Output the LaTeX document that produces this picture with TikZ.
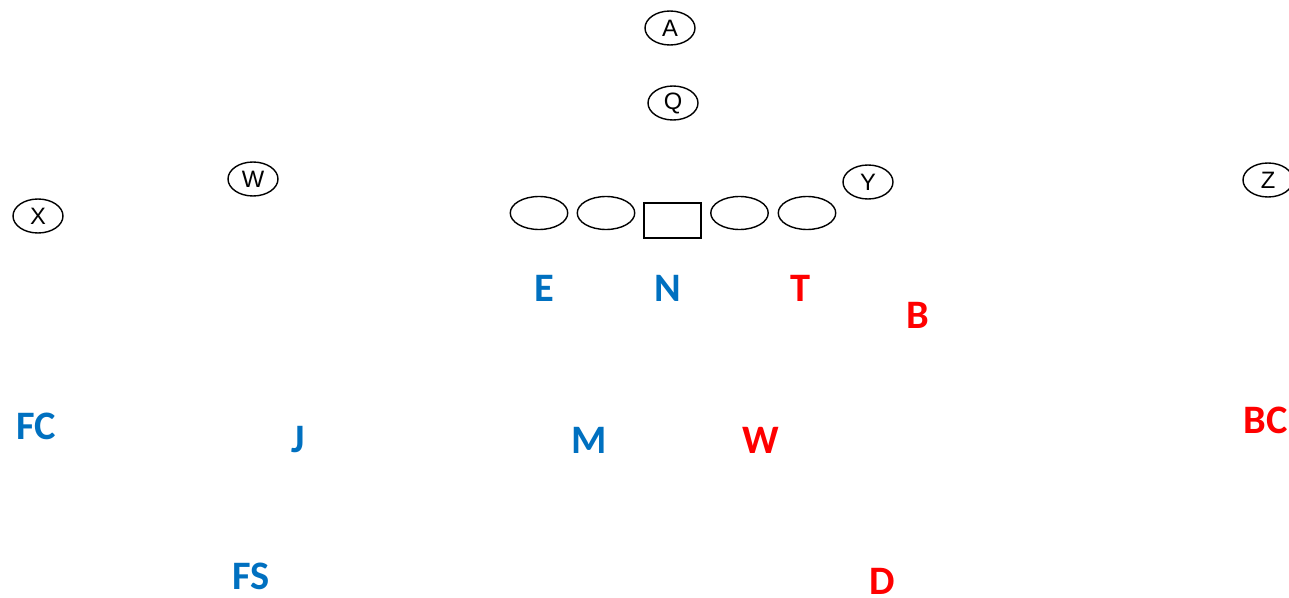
\documentclass[tikz,border=0pt]{standalone}
\usepackage{fontspec}
\setmainfont{Liberation Sans}
\newfontfamily\calfont{Carlito}
\usetikzlibrary{shapes.geometric}
\definecolor{dblue}{HTML}{0070C0}
\definecolor{dred}{HTML}{FF0000}

\begin{document}
\begin{tikzpicture}[x=0.02cm, y=-0.02cm,
  plr/.style={draw, ellipse, line width=0.8pt, inner sep=0pt, minimum width=1cm, minimum height=0.68cm, font=\fontsize{13.5}{15}\selectfont},
  lnm/.style={draw, ellipse, line width=0.8pt, minimum width=1.15cm, minimum height=0.66cm},
  ctr/.style={draw, rectangle, line width=0.8pt, minimum width=1.14cm, minimum height=0.7cm},
  dfn/.style={font=\calfont\fontsize{23}{27}\selectfont\bfseries, inner sep=0pt},
  dblu/.style={dfn, text=dblue},
  dredd/.style={dfn, text=dred}
]
  \useasboundingbox (0,0) rectangle (1289,598);

  % offense
  \node[plr] (ab) at (670,28)  {A};
  \node[plr] (qb) at (673,103) {Q};
  \node[plr] (x)  at (38,216)  {X};
  \node[plr] (w)  at (253,179) {W};
  \node[plr] (y)  at (868,182) {Y};
  \node[plr] (z)  at (1268,180) {Z};

  \node[lnm] (lt) at (539,213) {};
  \node[lnm] (lg) at (606,213) {};
  \node[ctr] (c)  at (672.5,220.5) {};
  \node[lnm] (rg) at (739.5,213) {};
  \node[lnm] (rt) at (807,213) {};

  % defense
  \node[dblu] (de) at (544,288) {E};
  \node[dblu] (dn) at (668,288) {N};
  \node[dredd] (dt) at (800,288) {T};
  \node[dredd] (db) at (918,315) {B};
  \node[dblu] (fc) at (36,426) {FC};
  \node[dblu] (dj) at (298,440) {J};
  \node[dblu] (dm) at (589,440) {M};
  \node[dredd] (dw) at (761,440) {W};
  \node[dredd] (bc) at (1266,420) {BC};
  \node[dblu] (fs) at (251,576) {FS};
  \node[dredd] (dd) at (882,581) {D};
\end{tikzpicture}
\end{document}
